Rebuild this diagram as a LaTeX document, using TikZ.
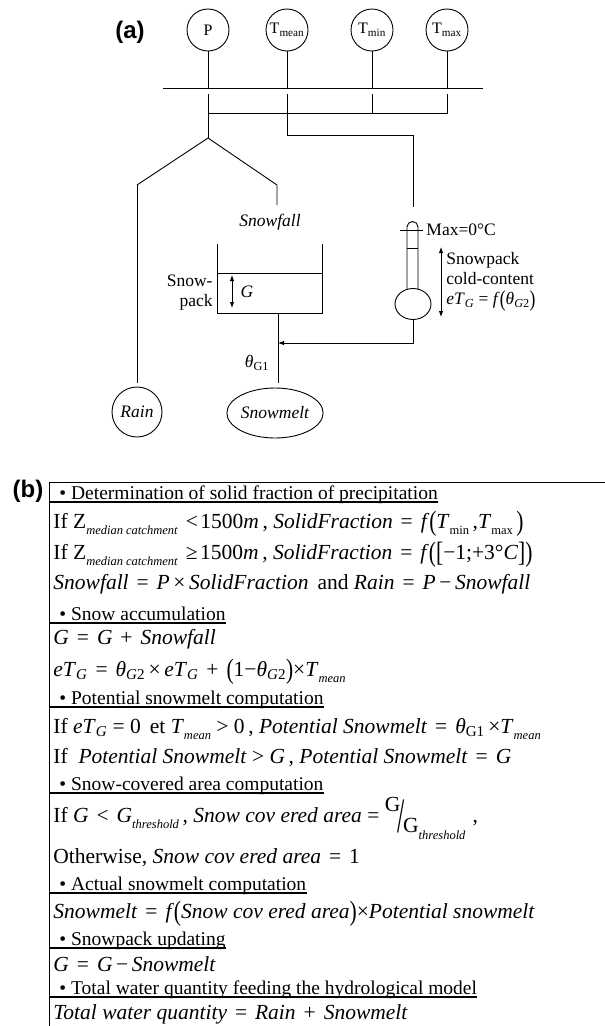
\documentclass[tikz,border=0pt]{standalone}
\usepackage{fontspec}
\setmainfont{Liberation Serif}
\newfontfamily\panelfont{Liberation Sans}
\usetikzlibrary{arrows.meta,shapes.geometric}

\newcommand{\sbs}[1]{\textsubscript{#1}}
\newcommand{\lsb}[1]{\raisebox{-0.32em}{\fontsize{12.5}{13}\selectfont #1}}
\newcommand{\bpar}[1]{\raisebox{-0.12em}{\scalebox{1}[1.3]{#1}}}
\newcommand{\rel}[1]{\hspace{0.12em}#1\hspace{0.12em}}

\tikzset{
  inp/.style={draw, circle, minimum size=42pt, inner sep=0pt, font=\fontsize{16}{18}\selectfont},
  outp/.style={draw, inner sep=0pt, font=\fontsize{17.5}{20}\selectfont\itshape},
  panel/.style={font=\panelfont\bfseries\fontsize{24}{26}\selectfont},
  lbl/.style={inner sep=0pt, font=\fontsize{17.5}{20}\selectfont},
  hd/.style={anchor=base west, inner sep=0pt, font=\fontsize{19.5}{22}\selectfont},
  eq/.style={anchor=base west, inner sep=0pt, font=\fontsize{21.5}{24}\selectfont},
  rule/.style={line width=1.2pt}
}

\begin{document}
\begin{tikzpicture}[x=1pt,y=-1pt,line width=0.9pt,>={Latex[length=6pt,width=4.5pt]}]
\useasboundingbox (0,0) rectangle (605,1026);

% (a) inputs
\node[panel] (pa) at (130,32) {(a)};
\node[inp] (P) at (208,30) {P};
\node[inp] (Tmean) at (287,30) {T\sbs{mean}};
\node[inp] (Tmin) at (372,30) {T\sbs{min}};
\node[inp] (Tmax) at (447,30) {T\sbs{max}};

% bus
\coordinate (busL) at (163,88);
\coordinate (busR) at (483,88);
\draw (busL) -- (busR);
\draw (P) -- (P |- busL);
\draw (Tmean) -- (Tmean |- busL);
\draw (Tmin) -- (Tmin |- busL);
\draw (Tmax) -- (Tmax |- busL);

\coordinate (join) at (208,113);
\coordinate (split) at (208,138);
\coordinate (bendT) at (287,135);
\coordinate (thermoIn) at (413,207);
\draw ([yshift=-6pt]P |- busL) -- (split);
\draw ([yshift=-6pt]Tmin |- busL) -- (Tmin |- join);
\draw ([yshift=-6pt]Tmax |- busL) -- (Tmax |- join) -- (join);
\draw ([yshift=-6pt]Tmean |- busL) -- (bendT) -| (thermoIn);

% rain / snowfall split
\node[outp, circle, minimum size=50pt] (rain) at (137,412) {Rain};
\node[outp, ellipse, minimum width=92pt, minimum height=50pt] (melt) at (275,413) {Snowmelt};
\coordinate (rainK) at (138,185);
\coordinate (snowK) at (277,185);
\coordinate (snowIn) at (277,205);
\draw (rain.north |- rainK) -- (split) -- (snowK) -- (snowIn);
\draw[shorten >=4pt] (rain.north |- rainK) -- (rain.north);
\node[lbl] (snowfall) at (270,222) {\textit{Snowfall}};

% snowpack tank
\coordinate (tankTL) at (217,244);
\coordinate (tankBL) at (217,313);
\coordinate (tankBR) at (322,313);
\coordinate (tankTR) at (322,244);
\coordinate (packL) at (217,273);
\coordinate (packR) at (322,273);
\draw (tankTL) -- (tankBL) -- (tankBR) -- (tankTR);
\draw (packL) -- (packR);
\node[lbl, align=right, anchor=east] (snowpack) at (213,293) {Snow-\\pack};
\draw[<->] (232,275) -- (232,308);
\node[lbl] (G) at (247,292) {\textit{G}};
\coordinate (outlet) at (278,313);
\draw[shorten >=5pt] (outlet) -- (outlet |- melt.north);
\node[lbl] (theta1) at (257,363) {\textit{θ}\sbs{G1}};

% thermometer
\draw (407,289.5) -- (407,227) arc[start angle=180, end angle=360, radius=5.5] -- (418,289.5);
\draw (413,304) ellipse [x radius=18, y radius=15.5];
\draw (400,230) -- (423,230);
\draw (407,248) -- (418,248);
\coordinate (bulbOut) at (413,319.5);
\coordinate (thermoOut) at (413,343);
\draw[->] (bulbOut) -- (thermoOut) -- (outlet |- thermoOut);
\draw[<->] (441,247) -- (441,317);
\node[lbl, anchor=west] (maxT) at (426,230) {Max=0°C};
\node[lbl, anchor=west, align=left] (cold) at (446,282) {Snowpack\\cold-content\\\textit{eT}\sbs{\textit{G}} = \textit{f}\bpar{(}\textit{θ}\sbs{\textit{G}2}\bpar{)}};

% (b) frame
\node[panel] (pb) at (28,491) {(b)};
\coordinate (btop) at (49,482);
\coordinate (bbot) at (49,1026);
\coordinate (bright) at (605,482);
\draw (bright) -- (btop) -- (bbot);

% (b) text
\node[hd] (h1) at (59,499) {• Determination of solid fraction of precipitation};
\node[eq] (e1) at (53,528) {If Z\lsb{\textit{median catchment}} \rel{<}1500\textit{m}\,, \textit{SolidFraction} \rel{=} \textit{f}\bpar{(}\textit{T}\lsb{min}\,,\textit{T}\lsb{max}\,\bpar{)}};
\node[eq] (e2) at (53,559) {If Z\lsb{\textit{median catchment}} \rel{≥}1500\textit{m}\,, \textit{SolidFraction} \rel{=} \textit{f}\bpar{(}\bpar{[}−1;+3°\textit{C}\bpar{]}\bpar{)}};
\node[eq] (e3) at (53,589) {\textit{Snowfall} \rel{=} \textit{P}\,×\,\textit{SolidFraction}\, and \textit{Rain} \rel{=} \textit{P}\,−\,\textit{Snowfall}};
\node[hd] (h2) at (59,620) {• Snow accumulation};
\node[eq] (e4) at (53,644) {\textit{G} \rel{=} \textit{G} \rel{+} \textit{Snowfall}};
\node[eq] (e5) at (53,676) {\textit{eT}\sbs{\textit{G}} \rel{=} \textit{θ}\sbs{\textit{G}2}\,×\,\textit{eT}\sbs{\textit{G}} \rel{+} \bpar{(}1−\textit{θ}\sbs{\textit{G}2}\bpar{)}×\textit{T}\lsb{\textit{mean}}};
\node[hd] (h3) at (59,704) {• Potential snowmelt computation};
\node[eq] (e6) at (53,733) {If \textit{eT}\sbs{\textit{G}} = 0 \,et \textit{T}\lsb{\textit{mean}} > 0\,, \textit{Potential Snowmelt} \rel{=} \textit{θ}\sbs{G1}\,×\textit{T}\lsb{\textit{mean}}};
\node[eq] (e7) at (53,763) {If \ \textit{Potential Snowmelt} > \textit{G}\,, \textit{Potential Snowmelt} \rel{=} \textit{G}};
\node[hd] (h4) at (59,790) {• Snow-covered area computation};
\node[eq] (e8) at (53,822) {If \textit{G} \rel{<} \textit{G}\lsb{\textit{threshold}}\,, \textit{Snow cov ered area} = \raisebox{0.5em}{G}\hspace{-0.12em}\raisebox{-0.5em}{\scalebox{1.2}[2.3]{/}}\hspace{-0.08em}\raisebox{-0.5em}{G\lsb{\textit{threshold}}}\,\,,};
\node[eq] (e9) at (53,863) {Otherwise, \textit{Snow cov ered area} \rel{=} 1};
\node[hd] (h5) at (59,890) {• Actual snowmelt computation};
\node[eq] (e10) at (53,918) {\textit{Snowmelt} \rel{=} \textit{f}\bpar{(}\textit{Snow cov ered area}\bpar{)}×\textit{Potential snowmelt}};
\node[hd] (h6) at (59,945) {• Snowpack updating};
\node[eq] (e11) at (53,971) {\textit{G} \rel{=} \textit{G}\,−\,\textit{Snowmelt}};
\node[hd] (h7) at (59,994) {• Total water quantity feeding the hydrological  model};
\node[eq] (e12) at (53,1019) {\textit{Total water quantity} \rel{=} \textit{Rain} \rel{+} \textit{Snowmelt}};

% underlines of the headings
\draw[rule] ([yshift=-3pt]h1.base east) -- ([yshift=-3pt]h1.base east -| btop);
\draw[rule] ([yshift=-3pt]h2.base east) -- ([yshift=-3pt]h2.base east -| btop);
\draw[rule] ([yshift=-3pt]h3.base east) -- ([yshift=-3pt]h3.base east -| btop);
\draw[rule] ([yshift=-3pt]h4.base east) -- ([yshift=-3pt]h4.base east -| btop);
\draw[rule] ([yshift=-3pt]h5.base east) -- ([yshift=-3pt]h5.base east -| btop);
\draw[rule] ([yshift=-3pt]h6.base east) -- ([yshift=-3pt]h6.base east -| btop);
\draw[rule] ([yshift=-3pt]h7.base east) -- ([yshift=-3pt]h7.base east -| btop);
\end{tikzpicture}
\end{document}
